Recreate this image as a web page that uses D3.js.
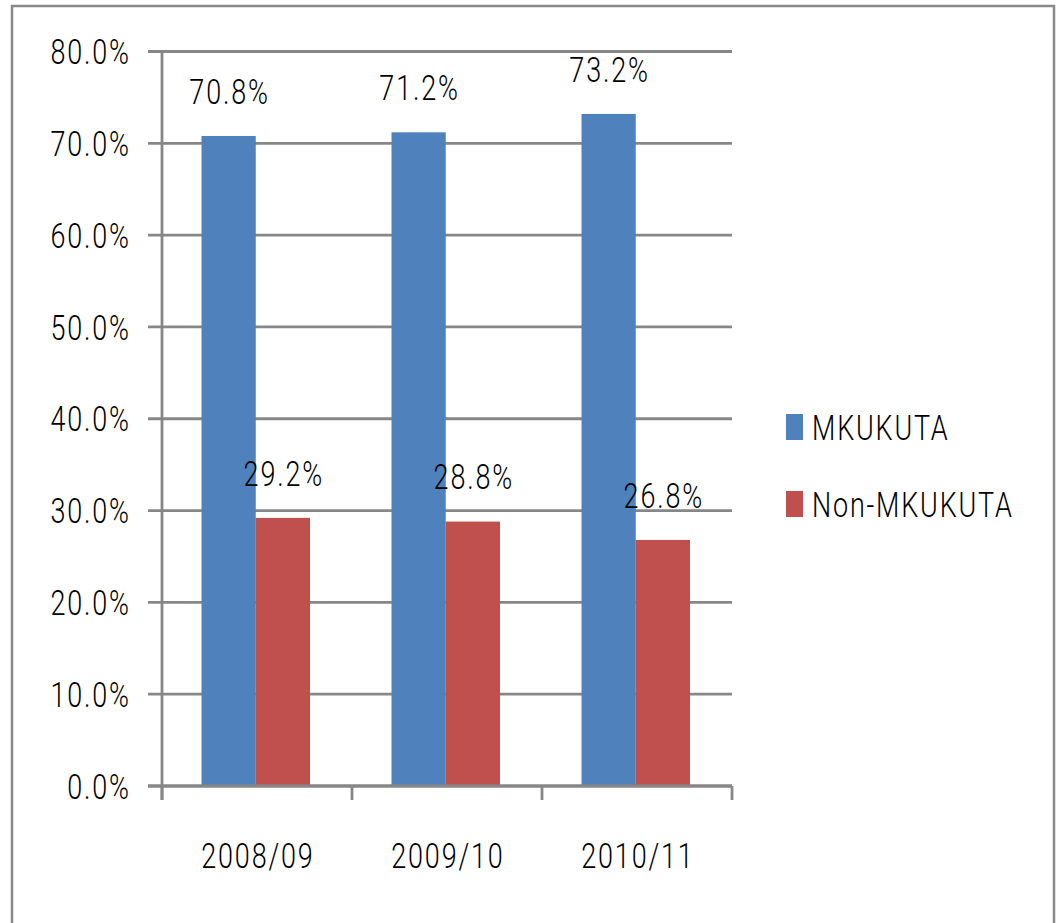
<!DOCTYPE html>
<html><head><meta charset="utf-8">
<script src="https://cdn.jsdelivr.net/npm/d3@7"></script>
<style>body{margin:0;background:#fff}svg{display:block}</style>
</head><body>
<script>
const categories = ["2008/09", "2009/10", "2010/11"];
const seriesNames = ["MKUKUTA", "Non-MKUKUTA"];
const mkukuta = [0.708, 0.712, 0.732];
const nonMkukuta = [0.292, 0.288, 0.268];
const yTicks = [0, 0.1, 0.2, 0.3, 0.4, 0.5, 0.6, 0.7, 0.8];
const colors = ["#4F81BD", "#C0504D"];

(function () {
const W = 1056, H = 923;
const FS = 27, SY = 1.32, CAP = 0.711 * FS * SY;
const svg = d3.select("body").append("svg").attr("width", W).attr("height", H);

// outer frame
svg.append("rect").attr("x", 12).attr("y", 6).attr("width", 1042).attr("height", 940)
  .attr("fill", "none").attr("stroke", "#888").attr("stroke-width", 2.5);

const pLeft = 162, pRight = 732, pTop = 51.5, pBottom = 786;
const y = d3.scaleLinear().domain([0, 0.8]).range([pBottom, pTop]);
const x0 = d3.scaleBand().domain(categories).range([pLeft, pRight]);
const x1 = d3.scaleBand().domain(seriesNames).range([39.5, 148]);

function label(g, txt, x, yc, anchor) {
  const ls = 1.8;
  g.append("g").attr("transform", `translate(${anchor === "start" ? x : anchor === "end" ? x + ls : x + ls / 2},${yc + CAP / 2}) scale(1,${SY})`)
    .append("text").attr("text-anchor", anchor)
    .attr("font-family", "Roboto, Liberation Sans, Arial, sans-serif")
    .attr("font-weight", 300).attr("letter-spacing", ls)
    .attr("font-size", FS).attr("fill", "#000").text(txt);
}

// gridlines
svg.append("g").selectAll("line").data(yTicks).join("line")
  .attr("x1", 148).attr("x2", pRight).attr("y1", d => y(d)).attr("y2", d => y(d))
  .attr("stroke", "#878787").attr("stroke-width", 2.8);

// y axis line
svg.append("line").attr("x1", pLeft).attr("x2", pLeft).attr("y1", pTop).attr("y2", pBottom + 14)
  .attr("stroke", "#878787").attr("stroke-width", 2.8);

// x ticks
const xt = [pLeft].concat(categories.map(c => x0(c) + x0.bandwidth()));
svg.append("g").selectAll("line").data(xt).join("line")
  .attr("x1", d => d).attr("x2", d => d).attr("y1", pBottom).attr("y2", pBottom + 14)
  .attr("stroke", "#878787").attr("stroke-width", 2.8);

// y tick labels
const yl = svg.append("g");
yTicks.forEach(t => label(yl, d3.format(".1%")(t), 129, y(t), "end"));

// bars
const data = [mkukuta, nonMkukuta];
const bars = svg.append("g");
data.forEach((vals, si) => {
  bars.selectAll(null).data(vals).join("rect")
    .attr("x", (d, i) => x0(categories[i]) + x1(seriesNames[si]))
    .attr("y", d => y(d))
    .attr("width", x1.bandwidth())
    .attr("height", d => pBottom - y(d))
    .attr("fill", colors[si]);
});

// x axis line over bars
svg.append("line").attr("x1", 148).attr("x2", pRight).attr("y1", pBottom).attr("y2", pBottom)
  .attr("stroke", "#878787").attr("stroke-width", 2.8);

// data labels
const dl = svg.append("g");
data.forEach((vals, si) => {
  vals.forEach((v, i) => {
    label(dl, d3.format(".1%")(v), x0(categories[i]) + x1(seriesNames[si]) + x1.bandwidth() / 2, y(v) - 45, "middle");
  });
});

// category labels
const cl = svg.append("g");
categories.forEach(c => label(cl, c, x0(c) + x0.bandwidth() / 2, 855.5, "middle"));

// legend
const lg = svg.append("g");
seriesNames.forEach((s, i) => {
  const yc = 427 + i * 77;
  lg.append("rect").attr("x", 786).attr("y", yc - 13).attr("width", 17).attr("height", 26).attr("fill", colors[i]);
  label(lg, s, 812, yc, "start");
});
})();
</script>
</body></html>
